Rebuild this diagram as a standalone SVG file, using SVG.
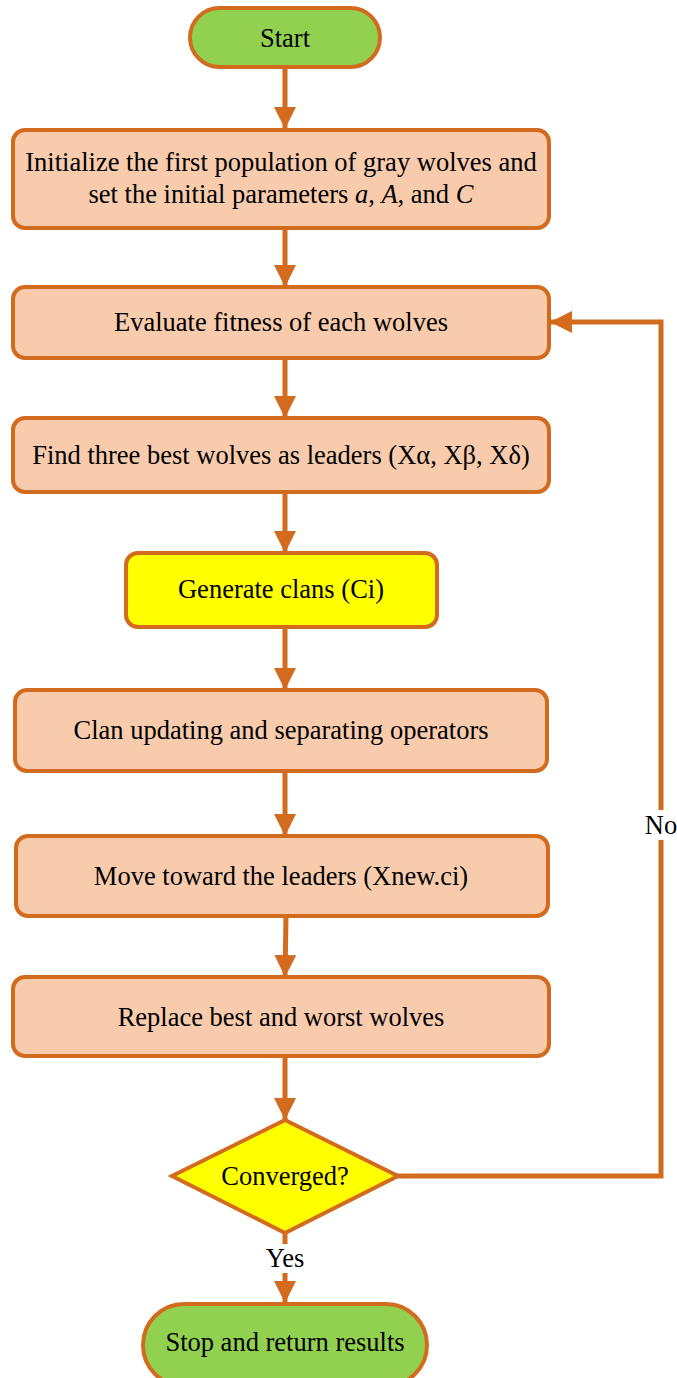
<svg xmlns="http://www.w3.org/2000/svg" width="677" height="1378" viewBox="0 0 677 1378">
<style>
.box{fill:#F8CBAD;stroke:#D26B1E;stroke-width:4}
.term{fill:#92D050;stroke:#D26B1E;stroke-width:4}
.yel{fill:#FFFF00;stroke:#D26B1E;stroke-width:4}
.t{font-family:"Liberation Serif","Times New Roman",serif;font-size:26.5px;fill:#000;text-anchor:middle;dominant-baseline:central}
.c{fill:none;stroke:#D26B1E;stroke-width:5}
</style>
<defs>
<marker id="ah" viewBox="0 0 10 10" refX="10" refY="5" markerWidth="4.4" markerHeight="4.4" markerUnits="strokeWidth" orient="auto">
<path d="M0,0 L10,5 L0,10 z" fill="#D26B1E"/>
</marker>
</defs>
<rect width="677" height="1378" fill="#fff"/>
<g id="connectors">
<line class="c" x1="285" y1="67" x2="285" y2="129" marker-end="url(#ah)"/>
<line class="c" x1="285" y1="228" x2="285" y2="287" marker-end="url(#ah)"/>
<line class="c" x1="285" y1="358" x2="285" y2="418" marker-end="url(#ah)"/>
<line class="c" x1="285" y1="492" x2="285" y2="553" marker-end="url(#ah)"/>
<line class="c" x1="285" y1="627" x2="285" y2="690" marker-end="url(#ah)"/>
<line class="c" x1="285" y1="771" x2="285" y2="836" marker-end="url(#ah)"/>
<line class="c" x1="286" y1="916" x2="285" y2="977" marker-end="url(#ah)"/>
<line class="c" x1="285" y1="1056" x2="285" y2="1120" marker-end="url(#ah)"/>
<line class="c" x1="285" y1="1233" x2="285" y2="1244"/>
<line class="c" x1="285" y1="1273" x2="285" y2="1303" marker-end="url(#ah)"/>
<polyline class="c" points="398,1176 661,1176 661,840"/>
<polyline class="c" points="661,810 661,322 550,322" marker-end="url(#ah)"/>
<text class="t" x="661" y="825">No</text>
<text class="t" x="285" y="1258">Yes</text>
</g>
<g id="start">
<rect class="term" x="190" y="8" width="190" height="59" rx="29.5"/>
<text class="t" x="285" y="38">Start</text>
</g>
<g id="init">
<rect class="box" x="13" y="130" width="536" height="98" rx="12"/>
<text class="t" x="281" y="162">Initialize the first population of gray wolves and</text>
<text class="t" x="281" y="194">set the initial parameters <tspan font-style="italic">a</tspan>, <tspan font-style="italic">A</tspan>, and <tspan font-style="italic">C</tspan></text>
</g>
<g id="evaluate">
<rect class="box" x="13" y="287" width="536" height="71" rx="12"/>
<text class="t" x="281" y="322">Evaluate fitness of each wolves</text>
</g>
<g id="find">
<rect class="box" x="13" y="418" width="536" height="74" rx="12"/>
<text class="t" x="281" y="455">Find three best wolves as leaders (Xα, Xβ, Xδ)</text>
</g>
<g id="generate">
<rect class="yel" x="126" y="553" width="311" height="74" rx="12"/>
<text class="t" x="281" y="589">Generate clans (Ci)</text>
</g>
<g id="clan">
<rect class="box" x="15" y="690" width="532" height="81" rx="12"/>
<text class="t" x="281" y="730">Clan updating and separating operators</text>
</g>
<g id="move">
<rect class="box" x="16" y="836" width="532" height="80" rx="12"/>
<text class="t" x="281" y="876">Move toward the leaders (Xnew.ci)</text>
</g>
<g id="replace">
<rect class="box" x="13" y="977" width="536" height="79" rx="12"/>
<text class="t" x="281" y="1017">Replace best and worst wolves</text>
</g>
<g id="converged">
<polygon class="yel" points="285,1120 398,1176 285,1233 172,1176"/>
<text class="t" x="285" y="1176">Converged?</text>
</g>
<g id="stop">
<rect class="term" x="143" y="1304" width="284" height="82" rx="41"/>
<text class="t" x="285" y="1342">Stop and return results</text>
</g>
</svg>
